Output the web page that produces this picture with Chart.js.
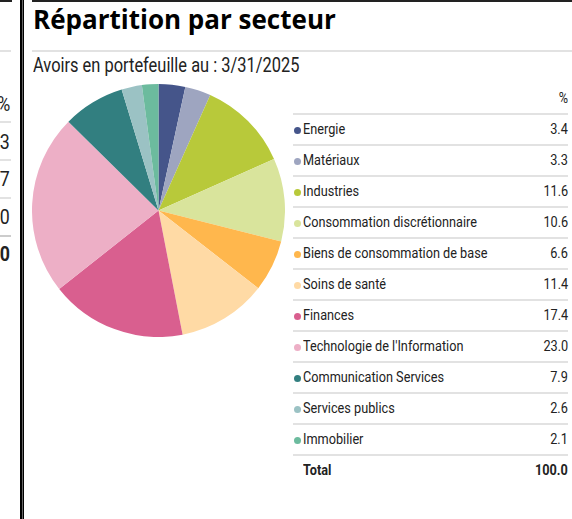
<!DOCTYPE html>
<html>
<head>
<meta charset="utf-8">
<script src="https://cdn.jsdelivr.net/npm/chart.js@4/dist/chart.umd.min.js"></script>
<style>
  body { margin: 0; width: 572px; height: 519px; overflow: hidden; background: #fff; position: relative;
         font-family: Roboto, sans-serif; color: #222; }
  .abs { position: absolute; }
  .vline { left: 20px; top: 0; height: 519px; width: 1px; background: #666;
           border-left: 2px solid #000; border-right: 1px solid #000; }
  .title { left: 33px; top: 1px; font: bold 26px "Open Sans", "Noto Sans", sans-serif; color: #000; white-space: nowrap; }
  .sub { left: 33px; top: 54px; font-size: 19.4px; white-space: nowrap; transform-origin: left center; }
  .row { position: absolute; left: 293px; width: 275px; height: 31px; border-top: 2px solid #e2e2e2;
         box-sizing: border-box; font-size: 15px; line-height: 29px; }
  .row .lab { position: absolute; left: 10px; white-space: nowrap; transform-origin: left center; }
  .row .val { position: absolute; right: 0; transform-origin: right center; }
  .row .dot { position: absolute; left: 1px; top: 12px; width: 7px; height: 7px; border-radius: 50%; }
  .left { font-size: 21px; right: 562px; text-align: right; transform-origin: right center; }
  .lline { left: 0; width: 11px; height: 2px; background: #e2e2e2; }
</style>
</head>
<body>
<div class="abs vline"></div>
<div class="abs" style="left:0;top:0;width:12px;height:2px;background:#222"></div>
<div class="abs" style="left:32px;top:0;width:540px;height:2px;background:#222"></div>
<div class="abs lline" style="top:50px"></div>
<div class="abs" style="left:32px;top:50px;width:540px;height:2px;background:#e2e2e2"></div>
<div class="abs title">Répartition par secteur</div>
<div class="abs sub" id="sub"></div>
<canvas id="pie" class="abs" style="left:32px;top:84px" width="253" height="253"></canvas>
<div id="table"></div>
<div id="leftcol"></div>
<script>
const subtitle = "Avoirs en portefeuille au : 3/31/2025";
const sectors = ["Energie", "Matériaux", "Industries", "Consommation discrétionnaire",
  "Biens de consommation de base", "Soins de santé", "Finances", "Technologie de l'Information",
  "Communication Services", "Services publics", "Immobilier"];
const weights = [3.4, 3.3, 11.6, 10.6, 6.6, 11.4, 17.4, 23.0, 7.9, 2.6, 2.1];
const colors = ["#45558a", "#9ea5c0", "#b8c93a", "#d9e49c", "#ffb74d", "#ffdaa5",
  "#d95f8f", "#edafc6", "#327f80", "#9bc2c4", "#6cbb9e"];
const totalLabel = "Total";
const totalValue = "100.0";
// cut-off column of the neighbouring panel
const leftCol = ["%", "3", "7", "0", "0"];

// the original uses a condensed face; squeeze Roboto to the same width
const ctx = document.createElement("canvas").getContext("2d");
ctx.font = "15px Roboto";
const squeeze = Math.min(1, 174 / ctx.measureText("Consommation discrétionnaire").width);
const sq = "scaleX(" + squeeze + ")";

const sub = document.getElementById("sub");
sub.textContent = subtitle;
sub.style.transform = sq;

// table on the right
const table = document.getElementById("table");
const head = document.createElement("div");
head.className = "abs";
head.style.cssText = "right:4px;top:89px;font-size:15px;transform-origin:right center";
head.style.transform = sq;
head.textContent = "%";
table.appendChild(head);
sectors.forEach((s, i) => {
  const r = document.createElement("div");
  r.className = "row";
  r.style.top = (113 + i * 31) + "px";
  r.innerHTML = '<span class="dot" style="background:' + colors[i] + '"></span>' +
    '<span class="lab"></span><span class="val">' + weights[i].toFixed(1) + '</span>';
  r.querySelector(".lab").textContent = s;
  table.appendChild(r);
});
const tr = document.createElement("div");
tr.className = "row";
tr.style.top = (113 + sectors.length * 31) + "px";
tr.style.fontWeight = "bold";
tr.innerHTML = '<span class="lab">' + totalLabel + '</span><span class="val">' + totalValue + '</span>';
table.appendChild(tr);
table.querySelectorAll(".lab, .val").forEach(e => e.style.transform = sq);

// left remnants
const lc = document.getElementById("leftcol");
leftCol.forEach((t, i) => {
  const d = document.createElement("div");
  d.className = "abs left";
  d.style.top = (92 + i * 37.5) + "px";
  d.style.transform = sq;
  if (i === leftCol.length - 1) d.style.fontWeight = "bold";
  d.textContent = t;
  lc.appendChild(d);
  if (i < leftCol.length - 1) {
    const l = document.createElement("div");
    l.className = "abs lline";
    l.style.top = (121 + i * 38) + "px";
    if (i === leftCol.length - 2) l.style.background = "#ccc";
    lc.appendChild(l);
  }
});

new Chart(document.getElementById("pie"), {
  type: "pie",
  data: {
    labels: sectors,
    datasets: [{ data: weights, backgroundColor: colors, borderWidth: 0 }]
  },
  options: {
    responsive: false,
    animation: false,
    layout: { padding: 0 },
    plugins: { legend: { display: false }, tooltip: { enabled: false } }
  }
});
</script>
</body>
</html>
